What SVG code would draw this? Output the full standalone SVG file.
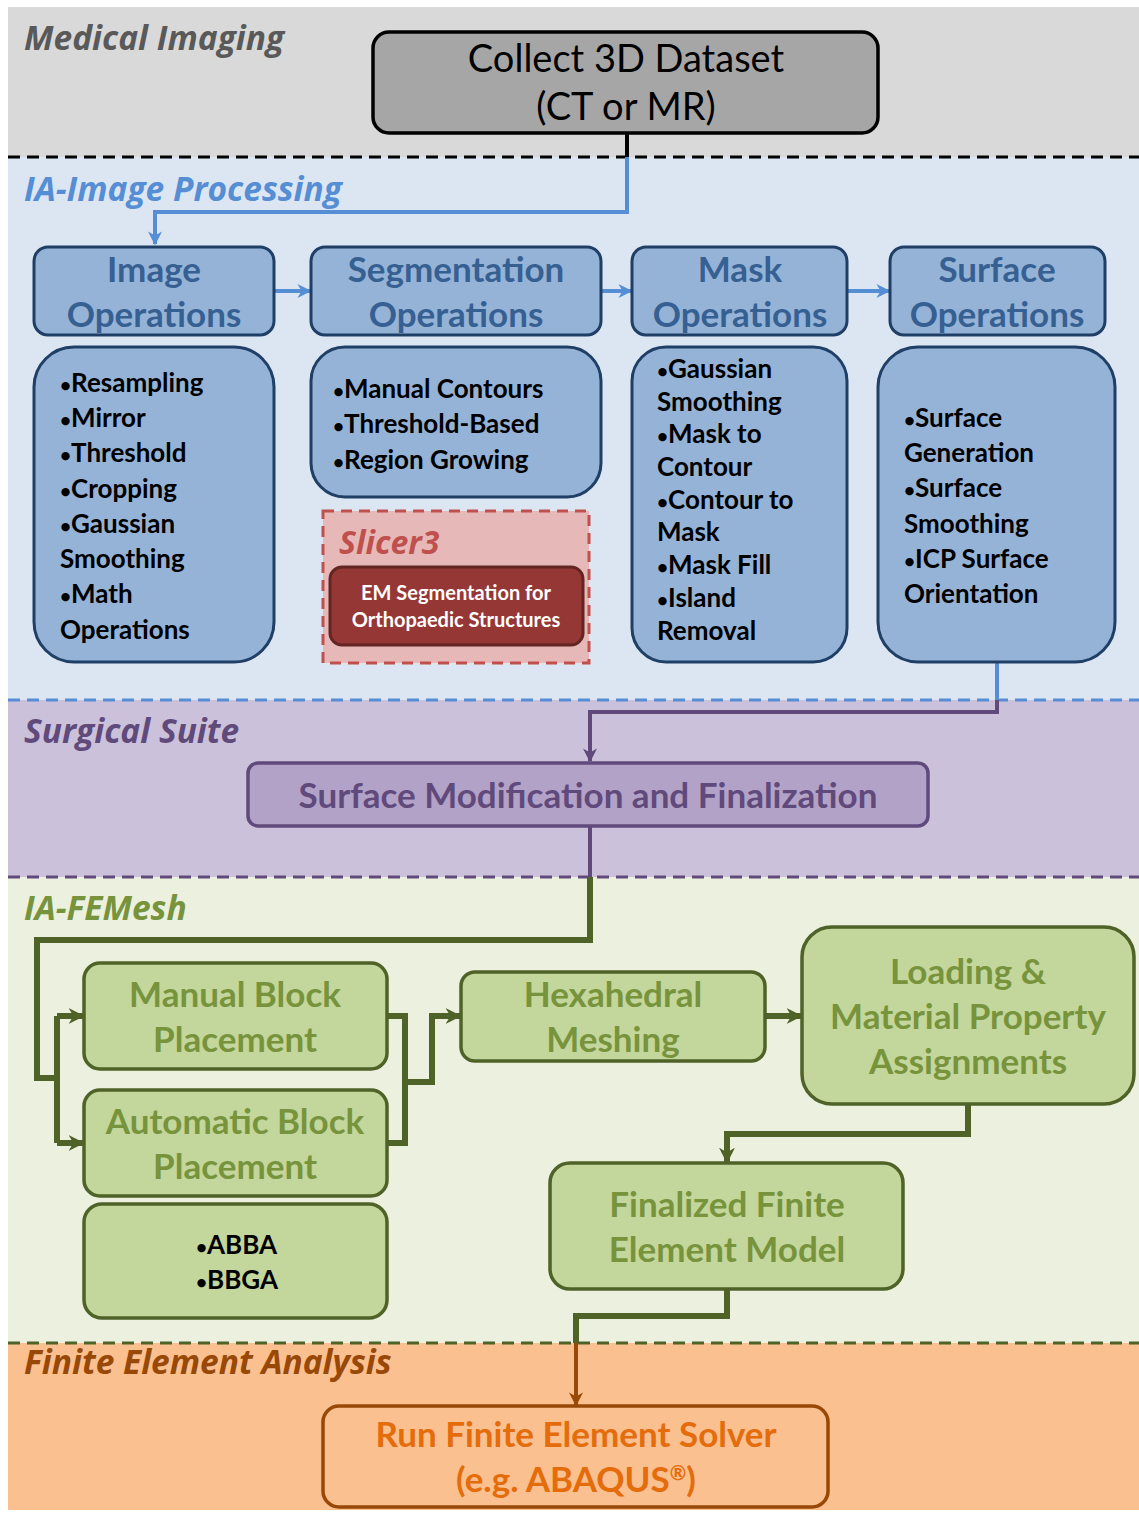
<svg xmlns="http://www.w3.org/2000/svg" width="1139" height="1513" viewBox="0 0 1139 1513">
<defs>
<style>
.lane{font-family:"Open Sans",Lato,"Liberation Sans",sans-serif;font-weight:bold;font-style:italic;font-size:33.5px}
.hd{font-family:Lato,"Open Sans","Liberation Sans",sans-serif;font-weight:bold;font-size:35px;text-anchor:middle}
.bl{font-family:Lato,"Open Sans","Liberation Sans",sans-serif;font-weight:bold;font-size:26px;fill:#000}
.bu{font-size:19px}
.bnode{fill:#95b3d7;stroke:#1f3f66;stroke-width:3}
.gnode{fill:#c3d69b;stroke:#4f6228;stroke-width:3.5}
.cb{fill:none;stroke:#558ed5;stroke-width:4}
.cp{fill:none;stroke:#604a7b;stroke-width:4}
.cg{fill:none;stroke:#4f6228;stroke-width:6}
.co{fill:none;stroke:#984807;stroke-width:4}
</style>
<marker id="ab" viewBox="0 0 10 10" refX="9" refY="5" markerWidth="14" markerHeight="14" markerUnits="userSpaceOnUse" orient="auto"><path d="M0,0 L10,5 L0,10 L3,5 z" fill="#558ed5"/></marker>
<marker id="ap" viewBox="0 0 10 10" refX="9" refY="5" markerWidth="14" markerHeight="14" markerUnits="userSpaceOnUse" orient="auto"><path d="M0,0 L10,5 L0,10 L3,5 z" fill="#604a7b"/></marker>
<marker id="ag" viewBox="0 0 10 10" refX="9" refY="5" markerWidth="16" markerHeight="16" markerUnits="userSpaceOnUse" orient="auto"><path d="M0,0 L10,5 L0,10 L3,5 z" fill="#4f6228"/></marker>
<marker id="ao" viewBox="0 0 10 10" refX="9" refY="5" markerWidth="14" markerHeight="14" markerUnits="userSpaceOnUse" orient="auto"><path d="M0,0 L10,5 L0,10 L3,5 z" fill="#984807"/></marker>
</defs>
<rect width="1139" height="1513" fill="#fff"/>
<g id="lanes">
<rect x="8" y="7" width="1131" height="150" fill="#d9d9d9"/>
<rect x="8" y="157" width="1131" height="543" fill="#dce6f2"/>
<rect x="8" y="700" width="1131" height="177" fill="#ccc1da"/>
<rect x="8" y="877" width="1131" height="466" fill="#ebf1de"/>
<rect x="8" y="1343" width="1131" height="167" fill="#fac090"/>
<line x1="8" y1="157" x2="1139" y2="157" stroke="#000" stroke-width="3" stroke-dasharray="12,7"/>
<line x1="8" y1="700" x2="1139" y2="700" stroke="#558ed5" stroke-width="3" stroke-dasharray="12,7"/>
<line x1="8" y1="877" x2="1139" y2="877" stroke="#604a7b" stroke-width="3" stroke-dasharray="12,7"/>
<line x1="8" y1="1343" x2="1139" y2="1343" stroke="#4f6228" stroke-width="3" stroke-dasharray="12,7"/>
<text class="lane" x="24" y="50" fill="#595959">Medical Imaging</text>
<text class="lane" x="24" y="201" fill="#558ed5">IA-Image Processing</text>
<text class="lane" x="24" y="743" fill="#604a7b">Surgical Suite</text>
<text class="lane" x="24" y="920" fill="#77933c">IA-FEMesh</text>
<text class="lane" x="24" y="1374" fill="#984807">Finite Element Analysis</text>
</g>
<g id="connectors">
<path d="M627,133 V157" fill="none" stroke="#000" stroke-width="4"/>
<path class="cb" d="M627,157 V212 H155 V244" marker-end="url(#ab)"/>
<path class="cb" d="M274,291 H310" stroke-width="5" marker-end="url(#ab)"/>
<path class="cb" d="M601,291 H631" stroke-width="5" marker-end="url(#ab)"/>
<path class="cb" d="M847,291 H889" stroke-width="5" marker-end="url(#ab)"/>
<path class="cb" d="M997,662 V700"/>
<path class="cp" d="M997,700 V712 H590 V761" marker-end="url(#ap)"/>
<path class="cp" d="M590,826 V877"/>
<path class="cg" d="M590,877 V940 H37 V1078 H57"/>
<path class="cg" d="M57,1016 V1143" stroke-width="5"/>
<path class="cg" d="M57,1016 H83" stroke-width="5" marker-end="url(#ag)"/>
<path class="cg" d="M57,1143 H83" stroke-width="5" marker-end="url(#ag)"/>
<path class="cg" d="M387,1016 H405 V1143 H387" stroke-width="5"/>
<path class="cg" d="M405,1082 H432 V1016 H460" stroke-width="5" marker-end="url(#ag)"/>
<path class="cg" d="M765,1016 H801" marker-end="url(#ag)"/>
<path class="cg" d="M968,1104 V1134 H727 V1162" stroke-width="5" marker-end="url(#ag)"/>
<path class="cg" d="M727,1289 V1316 H576 V1343" stroke-width="5"/>
<path class="co" d="M576,1343 V1405" marker-end="url(#ao)"/>
</g>
<g id="collect">
<rect x="373" y="32" width="505" height="101" rx="16" fill="#a6a6a6" stroke="#000" stroke-width="3.5"/>
<text x="626" y="72" font-family="Lato,'Open Sans','Liberation Sans',sans-serif" font-size="38" text-anchor="middle" fill="#000">Collect 3D Dataset</text>
<text x="626" y="120" font-family="Lato,'Open Sans','Liberation Sans',sans-serif" font-size="38" text-anchor="middle" fill="#000">(CT or MR)</text>
</g>
<g id="image-ops">
<rect class="bnode" x="34" y="247" width="240" height="88" rx="14"/>
<text class="hd" x="154" y="282" fill="#376092">Image</text>
<text class="hd" x="154" y="327" fill="#376092">Operations</text>
</g>
<g id="seg-ops">
<rect class="bnode" x="311" y="247" width="290" height="88" rx="14"/>
<text class="hd" x="456" y="282" fill="#376092">Segmentation</text>
<text class="hd" x="456" y="327" fill="#376092">Operations</text>
</g>
<g id="mask-ops">
<rect class="bnode" x="632" y="247" width="215" height="88" rx="14"/>
<text class="hd" x="740" y="282" fill="#376092">Mask</text>
<text class="hd" x="740" y="327" fill="#376092">Operations</text>
</g>
<g id="surface-ops">
<rect class="bnode" x="890" y="247" width="215" height="88" rx="14"/>
<text class="hd" x="997" y="282" fill="#376092">Surface</text>
<text class="hd" x="997" y="327" fill="#376092">Operations</text>
</g>
<g id="image-list">
<rect class="bnode" x="34" y="347" width="240" height="315" rx="40"/>
<text class="bl" x="60" y="392"><tspan class="bu">•</tspan>Resampling</text>
<text class="bl" x="60" y="427"><tspan class="bu">•</tspan>Mirror</text>
<text class="bl" x="60" y="462"><tspan class="bu">•</tspan>Threshold</text>
<text class="bl" x="60" y="498"><tspan class="bu">•</tspan>Cropping</text>
<text class="bl" x="60" y="533"><tspan class="bu">•</tspan>Gaussian</text>
<text class="bl" x="60" y="568">Smoothing</text>
<text class="bl" x="60" y="603"><tspan class="bu">•</tspan>Math</text>
<text class="bl" x="60" y="639">Operations</text>
</g>
<g id="seg-list">
<rect class="bnode" x="311" y="347" width="290" height="150" rx="34"/>
<text class="bl" x="333" y="398"><tspan class="bu">•</tspan>Manual Contours</text>
<text class="bl" x="333" y="433"><tspan class="bu">•</tspan>Threshold-Based</text>
<text class="bl" x="333" y="469"><tspan class="bu">•</tspan>Region Growing</text>
</g>
<g id="slicer3">
<rect x="323" y="511" width="266" height="152" fill="#e6b9b8" stroke="#c0504d" stroke-width="3" stroke-dasharray="11,7"/>
<text x="339" y="554" font-family="'Open Sans',Lato,'Liberation Sans',sans-serif" font-weight="bold" font-style="italic" font-size="32" fill="#c0504d">Slicer3</text>
<rect x="330" y="567" width="253" height="78" rx="12" fill="#953735" stroke="#632523" stroke-width="3"/>
<text x="456" y="600" font-family="Lato,'Open Sans','Liberation Sans',sans-serif" font-weight="bold" font-size="20" text-anchor="middle" fill="#fff">EM Segmentation for</text>
<text x="456" y="627" font-family="Lato,'Open Sans','Liberation Sans',sans-serif" font-weight="bold" font-size="20" text-anchor="middle" fill="#fff">Orthopaedic Structures</text>
</g>
<g id="mask-list">
<rect class="bnode" x="632" y="347" width="215" height="315" rx="34"/>
<text class="bl" x="657" y="378"><tspan class="bu">•</tspan>Gaussian</text>
<text class="bl" x="657" y="411">Smoothing</text>
<text class="bl" x="657" y="443"><tspan class="bu">•</tspan>Mask to</text>
<text class="bl" x="657" y="476">Contour</text>
<text class="bl" x="657" y="509"><tspan class="bu">•</tspan>Contour to</text>
<text class="bl" x="657" y="541">Mask</text>
<text class="bl" x="657" y="574"><tspan class="bu">•</tspan>Mask Fill</text>
<text class="bl" x="657" y="607"><tspan class="bu">•</tspan>Island</text>
<text class="bl" x="657" y="640">Removal</text>
</g>
<g id="surface-list">
<rect class="bnode" x="878" y="347" width="237" height="315" rx="40"/>
<text class="bl" x="904" y="427"><tspan class="bu">•</tspan>Surface</text>
<text class="bl" x="904" y="462">Generation</text>
<text class="bl" x="904" y="497"><tspan class="bu">•</tspan>Surface</text>
<text class="bl" x="904" y="533">Smoothing</text>
<text class="bl" x="904" y="568"><tspan class="bu">•</tspan>ICP Surface</text>
<text class="bl" x="904" y="603">Orientation</text>
</g>
<g id="surface-mod">
<rect x="248" y="763" width="680" height="63" rx="10" fill="#b3a2c7" stroke="#604a7b" stroke-width="3.5"/>
<text class="hd" x="588" y="808" fill="#604a7b">Surface Modification and Finalization</text>
</g>
<g id="manual-block">
<rect class="gnode" x="84" y="963" width="303" height="106" rx="16"/>
<text class="hd" x="235" y="1007" fill="#77933c">Manual Block</text>
<text class="hd" x="235" y="1052" fill="#77933c">Placement</text>
</g>
<g id="auto-block">
<rect class="gnode" x="84" y="1090" width="303" height="106" rx="16"/>
<text class="hd" x="235" y="1134" fill="#77933c">Automatic Block</text>
<text class="hd" x="235" y="1179" fill="#77933c">Placement</text>
</g>
<g id="abba">
<rect class="gnode" x="84" y="1204" width="303" height="114" rx="18"/>
<text class="bl" x="196" y="1254"><tspan class="bu">•</tspan>ABBA</text>
<text class="bl" x="196" y="1289"><tspan class="bu">•</tspan>BBGA</text>
</g>
<g id="hex-mesh">
<rect class="gnode" x="461" y="972" width="304" height="89" rx="14"/>
<text class="hd" x="613" y="1007" fill="#77933c">Hexahedral</text>
<text class="hd" x="613" y="1052" fill="#77933c">Meshing</text>
</g>
<g id="loading">
<rect class="gnode" x="802" y="927" width="332" height="177" rx="30"/>
<text class="hd" x="968" y="984" fill="#77933c">Loading &amp;</text>
<text class="hd" x="968" y="1029" fill="#77933c">Material Property</text>
<text class="hd" x="968" y="1074" fill="#77933c">Assignments</text>
</g>
<g id="finalized">
<rect class="gnode" x="550" y="1163" width="353" height="126" rx="20"/>
<text class="hd" x="727" y="1217" fill="#77933c">Finalized Finite</text>
<text class="hd" x="727" y="1262" fill="#77933c">Element Model</text>
</g>
<g id="solver">
<rect x="323" y="1406" width="505" height="101" rx="16" fill="#fac090" stroke="#984807" stroke-width="3.5"/>
<text class="hd" x="576" y="1447" fill="#e46c0a">Run Finite Element Solver</text>
<text class="hd" x="576" y="1492" fill="#e46c0a">(e.g. ABAQUS<tspan font-size="20" baseline-shift="super">®</tspan>)</text>
</g>
</svg>
